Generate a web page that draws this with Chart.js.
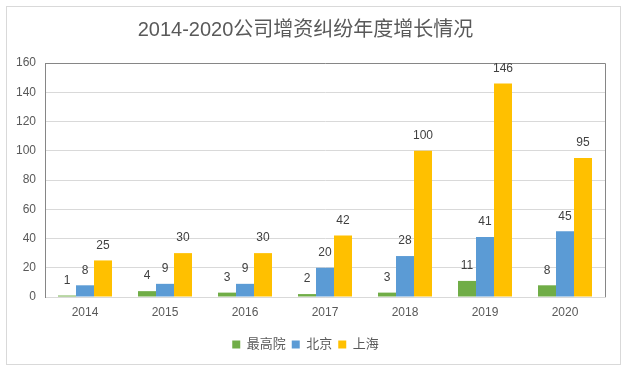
<!DOCTYPE html>
<html>
<head>
<meta charset="utf-8">
<script src="https://cdn.jsdelivr.net/npm/chart.js@4/dist/chart.umd.min.js"></script>
<style>
  html, body { margin: 0; padding: 0; background: #fff; }
  #wrap { width: 629px; height: 370px; position: relative; }
</style>
</head>
<body>
<div id="wrap"><canvas id="chart" width="629" height="370"></canvas></div>
<script>
// chart values
const years = ["2014", "2015", "2016", "2017", "2018", "2019", "2020"];
const supremeCourt = [1, 4, 3, 2, 3, 11, 8];
const beijing = [8, 9, 9, 20, 28, 41, 45];
const shanghai = [25, 30, 30, 42, 100, 146, 95];
const seriesNames = ["最高院", "北京", "上海"];
const seriesColors = ["#70AD47", "#5B9BD5", "#FFC000"];

const FONT = "'Liberation Sans', 'Noto Sans CJK SC', sans-serif";
const TEXT = "#595959";

// outer frame + top/right plot border
const framePlugin = {
  id: "frame",
  beforeDraw(chart) {
    const ctx = chart.ctx;
    ctx.save();
    ctx.fillStyle = "#fff";
    ctx.fillRect(0, 0, chart.width, chart.height);
    ctx.strokeStyle = "#d9d9d9";
    ctx.lineWidth = 1;
    ctx.strokeRect(6.5, 6.5, 614, 358);
    ctx.restore();
  },
  afterDatasetsDraw(chart) {
    const { ctx, chartArea: a } = chart;
    ctx.save();
    ctx.strokeStyle = "#868686";
    ctx.lineWidth = 1;
    ctx.beginPath();
    ctx.moveTo(Math.round(a.left) + 0.5, Math.round(a.top) + 0.5);
    ctx.lineTo(Math.round(a.right) + 0.5, Math.round(a.top) + 0.5);
    ctx.lineTo(Math.round(a.right) + 0.5, Math.round(a.bottom));
    ctx.stroke();
    ctx.restore();
  }
};

// value labels above each bar
const valueLabels = {
  id: "valueLabels",
  afterDatasetsDraw(chart) {
    const ctx = chart.ctx;
    ctx.save();
    ctx.font = "12px " + FONT;
    ctx.fillStyle = "#404040";
    ctx.textAlign = "center";
    ctx.textBaseline = "bottom";
    chart.data.datasets.forEach((ds, i) => {
      chart.getDatasetMeta(i).data.forEach((bar, j) => {
        ctx.fillText(String(ds.data[j]), bar.x, bar.y - 9);
      });
    });
    ctx.restore();
  }
};

new Chart(document.getElementById("chart"), {
  type: "bar",
  data: {
    labels: years,
    datasets: [supremeCourt, beijing, shanghai].map((d, i) => ({
      label: seriesNames[i],
      data: d,
      backgroundColor: seriesColors[i],
      borderWidth: 0,
      categoryPercentage: 0.675,
      barPercentage: 1
    }))
  },
  options: {
    responsive: false,
    animation: false,
    layout: { padding: { left: 6, right: 24, top: 0, bottom: 9 } },
    scales: {
      x: {
        grid: { display: false, drawTicks: false },
        border: { display: true, color: "#d9d9d9" },
        ticks: { color: TEXT, font: { family: FONT, size: 12 }, padding: 8 },
        afterFit(s) { s.height = 35; }
      },
      y: {
        min: 0,
        max: 160,
        ticks: { stepSize: 20, color: TEXT, font: { family: FONT, size: 12 }, padding: 9 },
        grid: { color: "#d9d9d9", drawTicks: false },
        border: { display: true, color: "#868686" },
        afterFit(s) { s.width = 39; }
      }
    },
    plugins: {
      title: {
        display: true,
        text: "2014-2020公司增资纠纷年度增长情况",
        color: TEXT,
        font: { family: FONT, size: 20, weight: "normal", lineHeight: 1.2 },
        padding: { top: 18, bottom: 21 }
      },
      legend: {
        position: "bottom",
        labels: {
          color: TEXT,
          font: { family: FONT, size: 13 },
          boxWidth: 8,
          boxHeight: 8,
          padding: 6
        }
      },
      tooltip: { enabled: false }
    }
  },
  plugins: [framePlugin, valueLabels]
});
</script>
</body>
</html>
